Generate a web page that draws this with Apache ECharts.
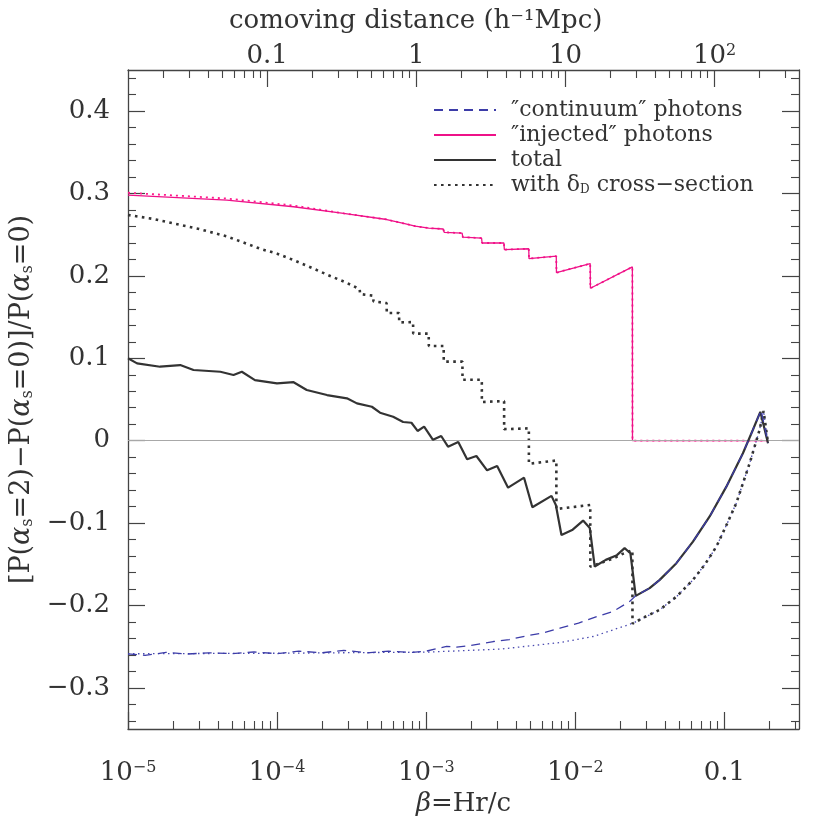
<!DOCTYPE html>
<html><head><meta charset="utf-8">
<script src="https://cdn.jsdelivr.net/npm/echarts@6/dist/echarts.min.js"></script>
<style>html,body{margin:0;padding:0;background:#fff}#c{width:830px;height:830px}</style>
</head><body><div id="c"></div>
<script>
const FONT = 'DejaVu Serif';
const INK = '#333';

// ---- axis ticks / labels ----
const xMajorTicks = [1e-5, 1e-4, 1e-3, 1e-2, 0.1];
const xMajorLabels = ['10{sup|−5}', '10{sup|−4}', '10{sup|−3}', '10{sup|−2}', '0.1'];
const xMinorTicks = [2e-5,3e-5,4e-5,5e-5,6e-5,7e-5,8e-5,9e-5,
  2e-4,3e-4,4e-4,5e-4,6e-4,7e-4,8e-4,9e-4,
  2e-3,3e-3,4e-3,5e-3,6e-3,7e-3,8e-3,9e-3,
  0.02,0.03,0.04,0.05,0.06,0.07,0.08,0.09,0.2,0.3];
const xMin = 1e-5, xMax = 0.3162;
const distPerBeta = 1165; // comoving distance (h^-1 Mpc) per unit beta (top axis)
const topMajorTicks = [0.1, 1, 10, 100];
const topMajorLabels = ['0.1', '1', '10', '10{sup|2}'];
const topMinorTicks = [0.02,0.03,0.04,0.05,0.06,0.07,0.08,0.09,
  0.2,0.3,0.4,0.5,0.6,0.7,0.8,0.9, 2,3,4,5,6,7,8,9,
  20,30,40,50,60,70,80,90, 200,300];
const yMajorTicks = [-0.3,-0.2,-0.1,0,0.1,0.2,0.3,0.4];
const yMajorLabels = ['−0.3','−0.2','−0.1','0','0.1','0.2','0.3','0.4'];
const yMinorTicks = [-0.34,-0.32,-0.28,-0.26,-0.24,-0.22,-0.18,-0.16,-0.14,-0.12,
  -0.08,-0.06,-0.04,-0.02,0.02,0.04,0.06,0.08,0.12,0.14,0.16,0.18,
  0.22,0.24,0.26,0.28,0.32,0.34,0.36,0.38,0.42,0.44];

// ---- series data: [beta, value] ----
const continuumData = [
  [1e-5,-0.2587],[1.3e-5,-0.2605],[1.8e-5,-0.257],[2.5e-5,-0.259],[3.5e-5,-0.2575],
  [5e-5,-0.2585],[7e-5,-0.2565],[1e-4,-0.2585],[1.4e-4,-0.2555],[2e-4,-0.2575],
  [2.8e-4,-0.2545],[4e-4,-0.2575],[5.6e-4,-0.2555],[8e-4,-0.257],[1.0e-3,-0.2555],
  [1.37e-3,-0.2498],[1.6e-3,-0.2505],[2.0e-3,-0.2485],[2.82e-3,-0.2438],[3.6e-3,-0.2415],
  [4.72e-3,-0.2369],[6.0e-3,-0.2335],[7.89e-3,-0.2276],[1.05e-2,-0.2215],[1.39e-2,-0.2135],
  [1.79e-2,-0.2074],[2.32e-2,-0.195],[2.54e-2,-0.1884],[3.15e-2,-0.179],[3.68e-2,-0.169],
  [4.76e-2,-0.1487],[6.15e-2,-0.1225],[7.96e-2,-0.092],[0.103,-0.0558],[0.133,-0.0153],
  [0.155,0.013],[0.176,0.037],[0.196,-0.003]
];
const continuumDeltaData = [
  [1e-5,-0.2587],[1e-4,-0.258],[1e-3,-0.2567],[3.16e-3,-0.253],[7.9e-3,-0.245],
  [1.32e-2,-0.2377],[2.44e-2,-0.2215],[3.68e-2,-0.2053],[4.79e-2,-0.189],[6.15e-2,-0.169],
  [7.41e-2,-0.150],[8.83e-2,-0.1286],[0.104,-0.101],[0.120,-0.076],[0.134,-0.05],
  [0.1476,-0.0274],[0.160,-0.006],[0.172,0.013],[0.183,0.036],[0.196,-0.003]
];
const injectedData = [
  [1e-5,0.298],[4.6e-5,0.292],[1.29e-4,0.284],[2.79e-4,0.276],[5.44e-4,0.2685],
  [7.05e-4,0.2637],[8.43e-4,0.2604],[1.04e-3,0.258],[1.30e-3,0.257],[1.32e-3,0.253],
  [1.74e-3,0.252],[1.76e-3,0.247],[2.35e-3,0.246],[2.37e-3,0.240],[3.32e-3,0.240],
  [3.34e-3,0.232],[4.87e-3,0.233],[4.89e-3,0.221],[7.45e-3,0.224],[7.47e-3,0.204],
  [1.258e-2,0.215],[1.262e-2,0.185],[2.413e-2,0.211],[2.417e-2,0],[0.196,0]
];
const injectedDeltaData = [
  [1e-5,0.301],[4.6e-5,0.294],[1.29e-4,0.2855],[2.79e-4,0.276],[5.44e-4,0.2685],
  [7.05e-4,0.2637],[8.43e-4,0.2604],[1.04e-3,0.258],[1.30e-3,0.257],[1.32e-3,0.253],
  [1.74e-3,0.252],[1.76e-3,0.247],[2.35e-3,0.246],[2.37e-3,0.240],[3.32e-3,0.240],
  [3.34e-3,0.232],[4.87e-3,0.233],[4.89e-3,0.221],[7.45e-3,0.224],[7.47e-3,0.204],
  [1.258e-2,0.215],[1.262e-2,0.185],[2.413e-2,0.211],[2.417e-2,0],[0.197,0]
];
const totalData = [
  [1.0e-5,0.100],[1.15e-5,0.0939],[1.64e-5,0.0898],[2.24e-5,0.0918],[2.75e-5,0.0858],
  [4.16e-5,0.0837],[5.1e-5,0.0797],[5.8e-5,0.0837],[7.1e-5,0.0736],[9.98e-5,0.0696],
  [1.29e-4,0.071],[1.58e-4,0.0615],[2.16e-4,0.0554],[2.94e-4,0.0514],[3.43e-4,0.0453],
  [4.32e-4,0.0412],[4.9e-4,0.034],[6.0e-4,0.029],[7.0e-4,0.0227],[7.96e-4,0.0218],
  [8.75e-4,0.0118],[9.68e-4,0.017],[1.11e-3,0.001],[1.26e-3,0.0057],[1.40e-3,-0.0073],
  [1.64e-3,-0.0016],[1.88e-3,-0.0226],[2.17e-3,-0.0186],[2.56e-3,-0.036],[2.99e-3,-0.0307],
  [3.54e-3,-0.057],[4.53e-3,-0.0449],[5.15e-3,-0.0808],[6.92e-3,-0.067],[7.4e-3,-0.078],
  [8.07e-3,-0.1144],[9.6e-3,-0.108],[1.127e-2,-0.097],[1.25e-2,-0.106],[1.349e-2,-0.1528],
  [1.6e-2,-0.1447],[1.9e-2,-0.139],[2.14e-2,-0.1305],[2.34e-2,-0.1366],[2.54e-2,-0.1884],
  [3.15e-2,-0.179],[3.68e-2,-0.169],[4.76e-2,-0.1487],[6.15e-2,-0.1225],[7.96e-2,-0.092],
  [0.103,-0.0558],[0.133,-0.0153],[0.155,0.013],[0.174,0.035],[0.196,-0.003]
];
const totalDeltaData = [
  [1.0e-5,0.274],[1.5e-5,0.269],[2.1e-5,0.263],[3e-5,0.257],[4.6e-5,0.248],
  [6.5e-5,0.238],[7.7e-5,0.233],[1.0e-4,0.227],[1.3e-4,0.219],[1.8e-4,0.208],
  [2.2e-4,0.201],[2.9e-4,0.192],[3.58e-4,0.184],[3.60e-4,0.178],[4.40e-4,0.176],
  [4.43e-4,0.169],[5.42e-4,0.167],[5.44e-4,0.155],[6.57e-4,0.155],[6.59e-4,0.1436],
  [8.16e-4,0.144],[8.18e-4,0.130],[1.039e-3,0.130],[1.041e-3,0.115],[1.309e-3,0.115],
  [1.311e-3,0.096],[1.749e-3,0.096],[1.751e-3,0.074],[2.359e-3,0.074],[2.361e-3,0.047],
  [3.329e-3,0.048],[3.331e-3,0.014],[4.879e-3,0.015],[4.881e-3,-0.028],[7.459e-3,-0.024],
  [7.461e-3,-0.083],[1.259e-2,-0.078],[1.261e-2,-0.153],[1.5e-2,-0.148],[1.8e-2,-0.143],
  [2.1e-2,-0.137],[2.413e-2,-0.133],[2.417e-2,-0.222],[3.0e-2,-0.213],[3.68e-2,-0.2053],
  [4.79e-2,-0.189],[6.15e-2,-0.169],[7.41e-2,-0.150],[8.83e-2,-0.1286],[0.104,-0.101],
  [0.120,-0.076],[0.134,-0.05],[0.1476,-0.0274],[0.160,-0.006],[0.172,0.013],
  [0.183,0.036],[0.196,-0.003]
];

const seriesNames = ['″continuum″ photons', '″injected″ photons', 'total', 'with δD cross−section'];

function nearestLabel(v, ticks, labels) {
  let best = 0, bd = Infinity;
  for (let i = 0; i < ticks.length; i++) {
    const d = Math.abs(Math.log10(v) - Math.log10(ticks[i]));
    if (d < bd) { bd = d; best = i; }
  }
  return labels[best];
}
function nearestLinLabel(v, ticks, labels) {
  let best = 0, bd = Infinity;
  for (let i = 0; i < ticks.length; i++) {
    const d = Math.abs(v - ticks[i]);
    if (d < bd) { bd = d; best = i; }
  }
  return labels[best];
}

const supRich = { sup: { fontFamily: FONT, fontSize: 16, color: INK, verticalAlign: 'top', lineHeight: 16 } };
const lineAxis = { show: true, onZero: false, lineStyle: { color: '#444', width: 1.3 } };
const noLine = { show: false, onZero: false };
const majTick = vals => ({ show: true, inside: true, length: 17, customValues: vals, lineStyle: { color: '#444', width: 1.2 } });
const minTick = vals => ({ show: true, inside: true, length: 8, customValues: vals, lineStyle: { color: '#444', width: 1.1 } });

const chart = echarts.init(document.getElementById('c'), null, { renderer: 'canvas' });
chart.setOption({
  backgroundColor: '#fff',
  animation: false,
  title: {
    text: 'comoving distance (h⁻¹Mpc)', left: 224, top: 3,
    textStyle: { fontFamily: FONT, fontSize: 26, fontWeight: 'normal', color: INK }
  },
  grid: { left: 128, right: 31, top: 70, bottom: 101 },
  legend: {
    orient: 'vertical', left: 428, top: 94,
    itemWidth: 62, itemHeight: 14, itemGap: 3,
    data: seriesNames,
    formatter: n => n === seriesNames[3] ? 'with δ{sub|D} cross−section' : n,
    itemStyle: { color: 'transparent', borderColor: 'transparent', borderWidth: 0, opacity: 0 },
    textStyle: {
      fontFamily: FONT, fontSize: 22, color: INK, lineHeight: 22, padding: [0, 0, 0, 10],
      rich: { sub: { fontFamily: FONT, fontSize: 12, color: INK, verticalAlign: 'bottom', lineHeight: 15 } }
    }
  },
  xAxis: [
    { type: 'log', logBase: 10, min: xMin, max: xMax, position: 'bottom',
      axisLine: lineAxis, splitLine: { show: false },
      axisTick: majTick(xMajorTicks),
      axisLabel: { customValues: xMajorTicks, margin: 31, fontFamily: FONT, fontSize: 26, color: INK,
        formatter: v => nearestLabel(v, xMajorTicks, xMajorLabels), rich: supRich },
      name: '{it|β}=Hr/c', nameLocation: 'middle', nameGap: 60,
      nameTextStyle: { fontFamily: FONT, fontSize: 26, color: INK,
        rich: { it: { fontFamily: FONT, fontSize: 26, color: INK, fontStyle: 'italic' } } } },
    { type: 'log', logBase: 10, min: xMin, max: xMax, position: 'bottom',
      axisLine: noLine, splitLine: { show: false }, axisLabel: { show: false },
      axisTick: minTick(xMinorTicks) },
    { type: 'log', logBase: 10, min: xMin * distPerBeta, max: xMax * distPerBeta, position: 'top',
      axisLine: lineAxis, splitLine: { show: false },
      axisTick: majTick(topMajorTicks),
      axisLabel: { customValues: topMajorTicks, margin: 1, fontFamily: FONT, fontSize: 26, color: INK,
        formatter: v => nearestLabel(v, topMajorTicks, topMajorLabels), rich: supRich } },
    { type: 'log', logBase: 10, min: xMin * distPerBeta, max: xMax * distPerBeta, position: 'top',
      axisLine: noLine, splitLine: { show: false }, axisLabel: { show: false },
      axisTick: minTick(topMinorTicks) }
  ],
  yAxis: [
    { type: 'value', min: -0.35, max: 0.45, position: 'left',
      axisLine: lineAxis, splitLine: { show: false },
      axisTick: majTick(yMajorTicks),
      axisLabel: { customValues: yMajorTicks, margin: 18, fontFamily: FONT, fontSize: 26, color: INK,
        formatter: v => nearestLinLabel(v, yMajorTicks, yMajorLabels) },
      name: '[P({a|α}{sub|s}=2)−P({a|α}{sub|s}=0)]/P({a|α}{sub|s}=0)', nameLocation: 'middle', nameGap: 88,
      nameTextStyle: { fontFamily: FONT, fontSize: 27, color: INK,
        rich: { a: { fontFamily: FONT, fontSize: 27, color: INK, fontStyle: 'italic' },
                sub: { fontFamily: FONT, fontSize: 16, color: INK, verticalAlign: 'bottom', lineHeight: 16 } } } },
    { type: 'value', min: -0.35, max: 0.45, position: 'left',
      axisLine: noLine, splitLine: { show: false }, axisLabel: { show: false },
      axisTick: minTick(yMinorTicks) },
    { type: 'value', min: -0.35, max: 0.45, position: 'right',
      axisLine: lineAxis, splitLine: { show: false }, axisLabel: { show: false },
      axisTick: majTick(yMajorTicks) },
    { type: 'value', min: -0.35, max: 0.45, position: 'right',
      axisLine: noLine, splitLine: { show: false }, axisLabel: { show: false },
      axisTick: minTick(yMinorTicks) }
  ],
  series: [
    { name: 'zero', type: 'line', data: [], silent: true, z: 1,
      markLine: { silent: true, symbol: 'none', label: { show: false },
        lineStyle: { color: '#a8a8a8', width: 1.1, type: 'solid' }, data: [{ yAxis: 0 }] } },
    { name: 'continuum δD', type: 'line', data: continuumDeltaData, showSymbol: false, symbol: 'none', z: 2,
      lineStyle: { color: '#4a4ab0', width: 1.3, type: [1.5, 3.5] } },
    { name: 'injected δD', type: 'line', data: injectedDeltaData, showSymbol: false, symbol: 'none', z: 2,
      lineStyle: { color: '#ff1a8c', width: 1.8, type: [2, 4] } },
    { name: seriesNames[3], type: 'line', data: totalDeltaData, showSymbol: false, symbol: 'none', z: 3,
      itemStyle: { color: INK },
      lineStyle: { color: INK, width: 2.6, type: [2.6, 4.4] } },
    { name: seriesNames[1], type: 'line', data: injectedData, showSymbol: false, symbol: 'none', z: 4,
      itemStyle: { color: '#ee1188' },
      lineStyle: { color: '#ee1188', width: 1.3 } },
    { name: seriesNames[2], type: 'line', data: totalData, showSymbol: false, symbol: 'none', z: 5,
      itemStyle: { color: INK },
      lineStyle: { color: INK, width: 2.2 } },
    { name: seriesNames[0], type: 'line', data: continuumData, showSymbol: false, symbol: 'none', z: 6,
      itemStyle: { color: '#3c3ca8' },
      lineStyle: { color: '#3c3ca8', width: 1.3, type: [9, 6] } }
  ]
});
</script>
</body></html>
